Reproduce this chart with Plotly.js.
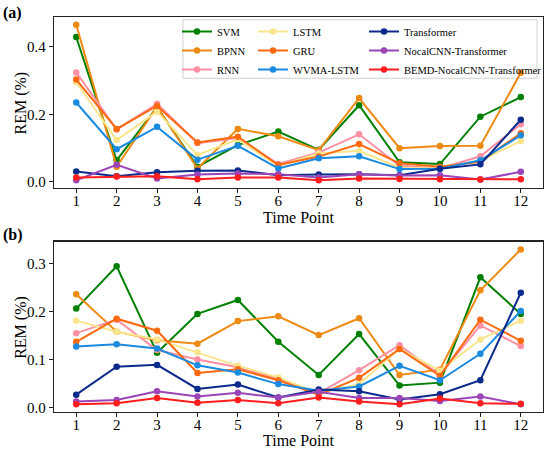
<!DOCTYPE html>
<html>
<head>
<meta charset="utf-8">
<script src="https://cdn.plot.ly/plotly-3.0.1.min.js"></script>
<style>html,body{margin:0;padding:0;background:#fff;}#chart{width:550px;height:449px;}</style>
</head>
<body>
<div id="chart"></div>
<script>
// ---- data ----
var timePoints = [1, 2, 3, 4, 5, 6, 7, 8, 9, 10, 11, 12];
var modelNames = ["SVM", "BPNN", "RNN", "LSTM", "GRU", "WVMA-LSTM", "Transformer", "NocalCNN-Transformer", "BEMD-NocalCNN-Transformer"];

// panel (a)
var svmA   = [0.429, 0.064, 0.221, 0.045, 0.109, 0.149, 0.095, 0.227, 0.058, 0.053, 0.193, 0.251];
var bpnnA  = [0.465, 0.045, 0.223, 0.040, 0.157, 0.135, 0.094, 0.248, 0.100, 0.106, 0.107, 0.323];
var rnnA   = [0.324, 0.155, 0.231, 0.115, 0.130, 0.053, 0.087, 0.141, 0.048, 0.040, 0.076, 0.171];
var lstmA  = [0.295, 0.124, 0.208, 0.080, 0.126, 0.047, 0.084, 0.092, 0.042, 0.040, 0.063, 0.121];
var gruA   = [0.303, 0.157, 0.225, 0.117, 0.134, 0.050, 0.075, 0.112, 0.055, 0.045, 0.060, 0.144];
var wvmaA  = [0.235, 0.097, 0.163, 0.066, 0.107, 0.040, 0.070, 0.076, 0.038, 0.039, 0.064, 0.138];
var transA = [0.031, 0.017, 0.029, 0.033, 0.034, 0.020, 0.022, 0.023, 0.020, 0.039, 0.052, 0.184];
var nocalA = [0.005, 0.051, 0.010, 0.022, 0.025, 0.023, 0.013, 0.023, 0.019, 0.020, 0.007, 0.030];
var bemdA  = [0.013, 0.016, 0.017, 0.008, 0.013, 0.013, 0.005, 0.010, 0.009, 0.008, 0.007, 0.008];

// panel (b)
var svmB   = [0.206, 0.294, 0.114, 0.195, 0.224, 0.137, 0.068, 0.153, 0.046, 0.052, 0.271, 0.195];
var bpnnB  = [0.236, 0.158, 0.140, 0.133, 0.180, 0.190, 0.151, 0.186, 0.068, 0.079, 0.244, 0.329];
var rnnB   = [0.155, 0.183, 0.120, 0.100, 0.084, 0.060, 0.030, 0.078, 0.130, 0.068, 0.171, 0.128];
var lstmB  = [0.181, 0.158, 0.142, 0.115, 0.087, 0.063, 0.030, 0.049, 0.122, 0.077, 0.142, 0.181];
var gruB   = [0.137, 0.185, 0.160, 0.072, 0.080, 0.057, 0.027, 0.062, 0.122, 0.066, 0.183, 0.139];
var wvmaB  = [0.127, 0.132, 0.123, 0.088, 0.073, 0.049, 0.035, 0.044, 0.087, 0.057, 0.112, 0.201];
var transB = [0.027, 0.085, 0.089, 0.039, 0.048, 0.021, 0.038, 0.034, 0.017, 0.028, 0.057, 0.239];
var nocalB = [0.013, 0.016, 0.034, 0.023, 0.031, 0.021, 0.033, 0.020, 0.020, 0.014, 0.023, 0.007];
var bemdB  = [0.007, 0.009, 0.020, 0.010, 0.016, 0.009, 0.021, 0.013, 0.007, 0.019, 0.009, 0.008];

var ticksA = [0.0, 0.2, 0.4];
var ticksB = [0.0, 0.1, 0.2, 0.3];

// ---- styles ----
var colors = ["#008000", "#EE8A12", "#FF8FA3", "#F8E58C", "#FF6A10", "#1A8AE0", "#0A2A8C", "#9B45B8", "#FF1E1E"];
var legendIds = ["legend", "legend", "legend", "legend2", "legend2", "legend2", "legend3", "legend3", "legend3"];
var seriesA = [svmA, bpnnA, rnnA, lstmA, gruA, wvmaA, transA, nocalA, bemdA];
var seriesB = [svmB, bpnnB, rnnB, lstmB, gruB, wvmaB, transB, nocalB, bemdB];

var FONT = "'Liberation Serif', 'Times New Roman', Times, serif";

var traces = [];
modelNames.forEach(function (name, i) {
  traces.push({
    x: timePoints, y: seriesA[i], name: name, type: "scatter", mode: "lines+markers",
    xaxis: "x", yaxis: "y", legend: legendIds[i], showlegend: true,
    line: {color: colors[i], width: 2}, marker: {color: colors[i], size: 6.5}
  });
});
modelNames.forEach(function (name, i) {
  traces.push({
    x: timePoints, y: seriesB[i], name: name, type: "scatter", mode: "lines+markers",
    xaxis: "x2", yaxis: "y2", showlegend: false,
    line: {color: colors[i], width: 2}, marker: {color: colors[i], size: 6.5}
  });
});

function xAxis(anchor) {
  return {
    anchor: anchor, domain: [0, 1], range: [0.45, 12.55],
    tickmode: "array", tickvals: timePoints, ticktext: timePoints.map(String),
    ticks: "outside", ticklen: 4, tickwidth: 1, tickcolor: "#222",
    ticklabelstandoff: -5,
    showline: true, mirror: true, linecolor: "#222", linewidth: 1.3,
    showgrid: false, zeroline: false,
    tickfont: {family: FONT, size: 15, color: "#000"},
    title: {text: "Time Point", font: {family: FONT, size: 16, color: "#000"}, standoff: 0}
  };
}
function yAxis(anchor, domain, range, tv) {
  return {
    anchor: anchor, domain: domain, range: range,
    tickmode: "array", tickvals: tv, tickformat: ".1f",
    ticks: "outside", ticklen: 4, tickwidth: 1, tickcolor: "#222",
    showline: true, mirror: true, linecolor: "#222", linewidth: 1.3,
    showgrid: false, zeroline: false,
    tickfont: {family: FONT, size: 15, color: "#000"}
  };
}
function legendAt(x) {
  return {
    x: x, y: 1.0, xanchor: "left", yanchor: "top",
    bgcolor: "rgba(0,0,0,0)", borderwidth: 0, itemwidth: 30,
    font: {family: FONT, size: 10.5, color: "#000"}
  };
}
function yTitle(yc) {
  return {text: "REM (%)", xref: "paper", yref: "paper", x: -0.0675, y: yc, textangle: -90,
          xanchor: "center", yanchor: "middle", showarrow: false,
          font: {family: FONT, size: 16, color: "#000"}};
}

var layout = {
  width: 550, height: 449,
  margin: {l: 54, r: 7, t: 17, b: 37, autoexpand: false},
  paper_bgcolor: "#fff", plot_bgcolor: "#fff",
  font: {family: FONT},
  xaxis: xAxis("y"),
  yaxis: yAxis("x", [0.567, 1], [-0.018, 0.488], ticksA),
  xaxis2: xAxis("y2"),
  yaxis2: yAxis("x2", [0, 0.431], [-0.009, 0.345], ticksB),
  legend: legendAt(0.2515),
  legend2: legendAt(0.407),
  legend3: legendAt(0.634),
  shapes: [{
    type: "rect", xref: "paper", yref: "paper", layer: "below",
    x0: 0.2638, x1: 0.9877, y0: 0.845, y1: 0.993,
    line: {color: "#d0d0d0", width: 1}, fillcolor: "#fff"
  }],
  annotations: [
    yTitle(0.7835),
    yTitle(0.2155),
    {text: "<b>(a)</b>", xref: "paper", yref: "paper", x: -0.084, y: 1.01, xanchor: "center", yanchor: "middle",
     showarrow: false, font: {family: FONT, size: 16, color: "#000"}},
    {text: "<b>(b)</b>", xref: "paper", yref: "paper", x: -0.084, y: 0.448, xanchor: "center", yanchor: "middle",
     showarrow: false, font: {family: FONT, size: 16, color: "#000"}}
  ]
};

Plotly.newPlot("chart", traces, layout, {displayModeBar: false, staticPlot: true});
</script>
</body>
</html>
